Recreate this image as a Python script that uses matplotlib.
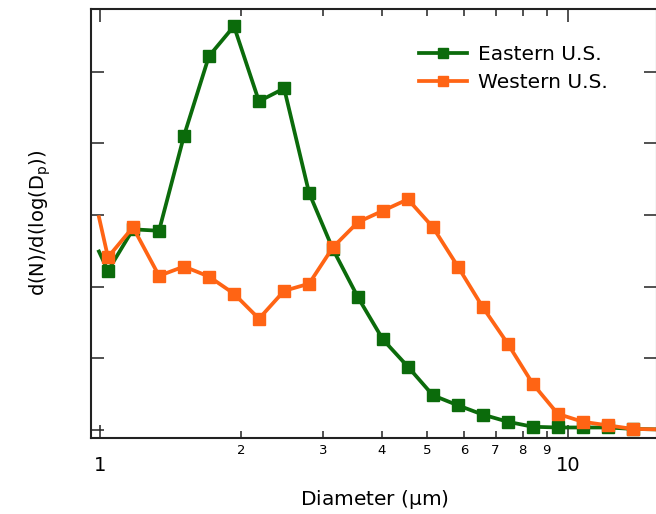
import numpy as np
import matplotlib
matplotlib.use('Agg')
import matplotlib.pyplot as plt
from matplotlib.ticker import FixedLocator, FixedFormatter, NullFormatter

'''DATA'''

#Particle diameter (um), log spaced bins
diameter = [0.995, 1.04, 1.176, 1.337, 1.512, 1.709, 1.933, 2.186, 2.474, 2.797,
            3.146, 3.557, 4.022, 4.548, 5.143, 5.815, 6.576, 7.436, 8.409, 9.508,
            10.75, 12.16, 13.75, 16.5]

#Size distributions (arbitrary units)
eastern = [2.49, 2.22, 2.80, 2.78, 4.11, 5.22, 5.64, 4.59, 4.77, 3.31,
           2.52, 1.85, 1.26, 0.88, 0.48, 0.34, 0.21, 0.11, 0.04, 0.03,
           0.03, 0.03, 0.01, 0.0]
western = [2.97, 2.41, 2.83, 2.15, 2.28, 2.14, 1.90, 1.55, 1.94, 2.04,
           2.55, 2.90, 3.06, 3.22, 2.83, 2.28, 1.71, 1.20, 0.64, 0.22,
           0.11, 0.06, 0.01, 0.0]

labels = ['Eastern U.S.', 'Western U.S.']
major_ticks = [1, 10]
minor_ticks = [2, 3, 4, 5, 6, 7, 8, 9]
y_ticks = [0, 1, 2, 3, 4, 5]

'''PLOT'''

plt.rcParams['font.family'] = 'DejaVu Sans'

fig = plt.figure(figsize=(6.56, 5.14), dpi=100)
ax = fig.add_axes([91/656, 1 - 437.5/514, 566/656, 428.5/514])

green = '#0b6b0b'
orange = '#ff6414'

#first and last bins drawn as line only
ax.plot(diameter, eastern, color=green, lw=2.7, marker='s', ms=9.2,
        markevery=slice(1, -1), label=labels[0])
ax.plot(diameter, western, color=orange, lw=2.7, marker='s', ms=9.2,
        markevery=slice(1, -1), label=labels[1])

ax.set_xscale('log')
ax.set_xlim(0.9567, 15.49)
ax.set_ylim(-0.11, 5.88)

#x ticks: big labels on decades, small labels in between
ax.xaxis.set_major_locator(FixedLocator(major_ticks))
ax.xaxis.set_major_formatter(FixedFormatter([str(t) for t in major_ticks]))
ax.xaxis.set_minor_locator(FixedLocator(minor_ticks))
ax.xaxis.set_minor_formatter(FixedFormatter([str(t) for t in minor_ticks]))
ax.tick_params(axis='x', which='major', direction='in', length=9.5, width=1.1,
               labelsize=14, pad=13, top=True, color='#222222')
ax.tick_params(axis='x', which='minor', direction='in', length=5, width=1.1,
               labelsize=9.5, pad=5, top=True, color='#222222')

#y ticks with no labels
ax.set_yticks(y_ticks)
ax.yaxis.set_major_formatter(NullFormatter())
ax.tick_params(axis='y', which='major', direction='in', length=9.5, width=1.1,
               right=True, color='#222222')
ax.tick_params(axis='y', which='minor', left=False, right=False)

for s in ax.spines.values():
    s.set_linewidth(1.5)
    s.set_color('#222222')

ax.set_xlabel(r'Diameter ($\mathregular{\mu}$m)', fontsize=14.5, labelpad=10)
ax.set_ylabel(r'd(N)/d(log(D$_\mathregular{p}$))', fontsize=14)
ax.yaxis.set_label_coords(-0.067, 0.5)

ax.legend(loc='upper left', bbox_to_anchor=((419 - 91)/566, 0.916), frameon=False,
          fontsize=14.5, handlelength=2.4, handletextpad=0.55, labelspacing=0.45,
          borderpad=0, borderaxespad=0, markerscale=0.8)

plt.savefig('out.png', dpi=100)
